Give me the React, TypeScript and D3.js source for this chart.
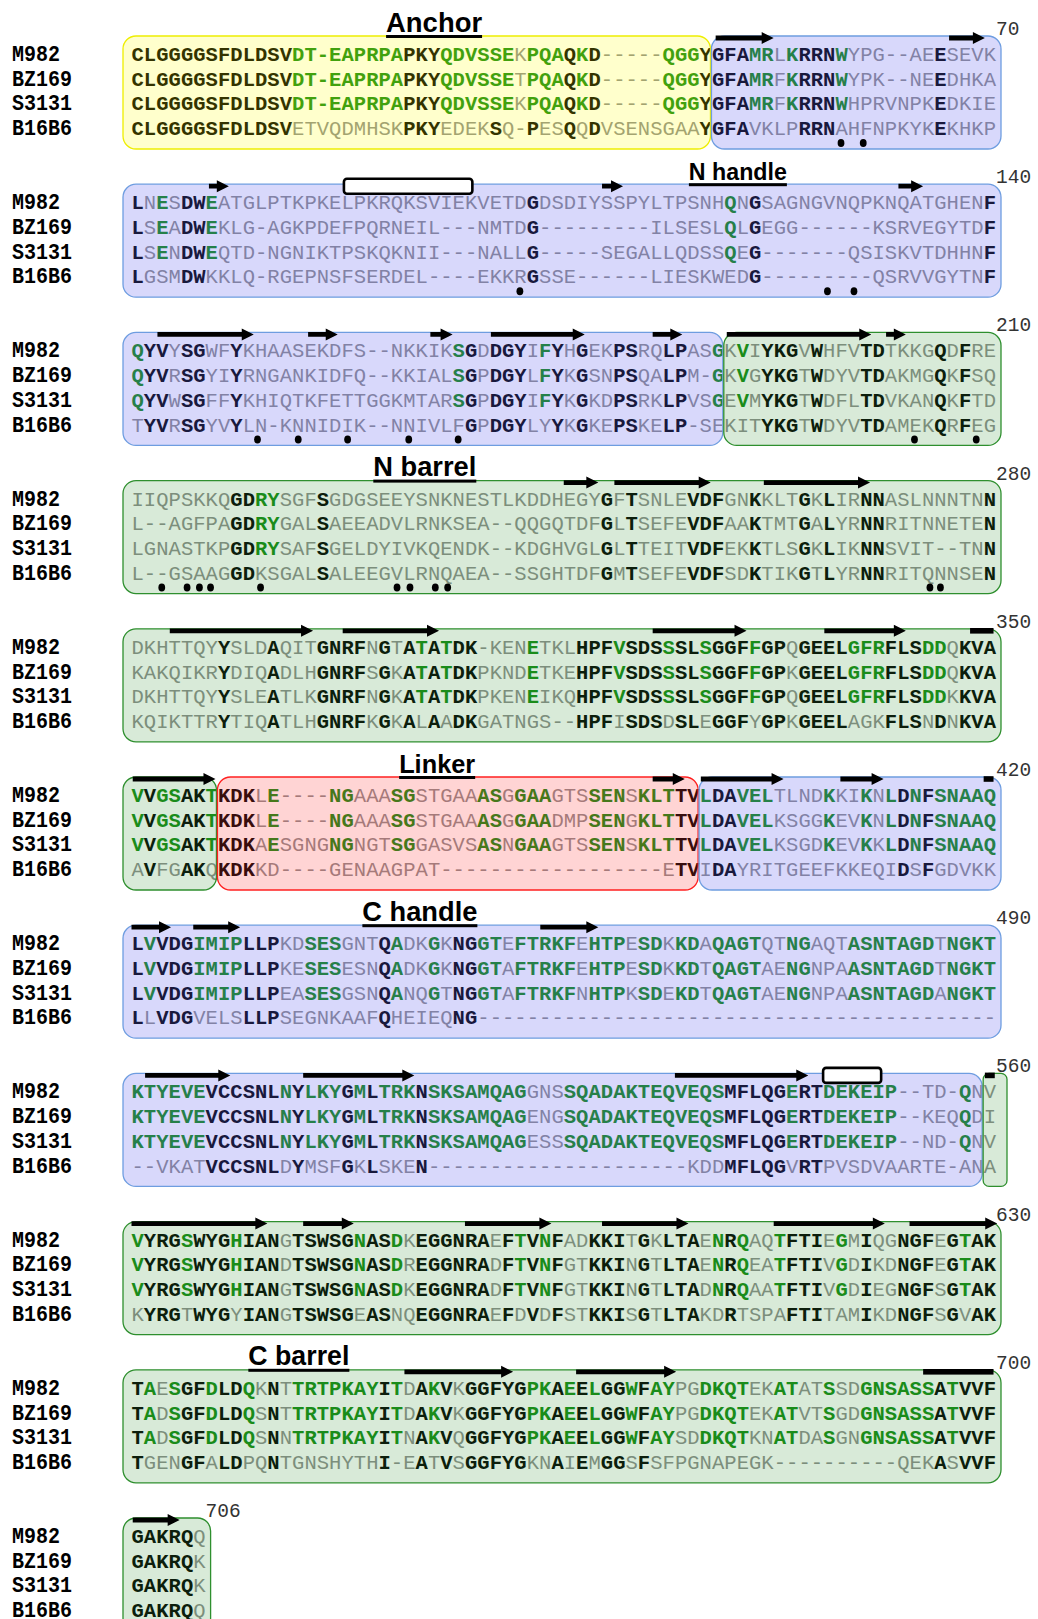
import React from "react";
import * as d3 from "d3";

// ---------------- DATA ----------------
const names = ["M982", "BZ169", "S3131", "B16B6"];

const M982 = [
  "CLGGGGSFDLDSVDT-EAPRPAPKYQDVSSEKPQAQKD-----QGGYGFAMRLKRRNWYPG--AEESEVK",
  "LNESDWEATGLPTKPKELPKRQKSVIEKVETDGDSDIYSSPYLTPSNHQNGSAGNGVNQPKNQATGHENF",
  "QYVYSGWFYKHAASEKDFS--NKKIKSGDDGYIFYHGEKPSRQLPASGKVIYKGVWHFVTDTKKGQDFRE",
  "IIQPSKKQGDRYSGFSGDGSEEYSNKNESTLKDDHEGYGFTSNLEVDFGNKKLTGKLIRNNASLNNNTNN",
  "DKHTTQYYSLDAQITGNRFNGTATATDK-KENETKLHPFVSDSSSLSGGFFGPQGEELGFRFLSDDQKVA",
  "VVGSAKTKDKLE----NGAAASGSTGAAASGGAAGTSSENSKLTTVLDAVELTLNDKKIKNLDNFSNAAQ",
  "LVVDGIMIPLLPKDSESGNTQADKGKNGGTEFTRKFEHTPESDKKDAQAGTQTNGAQTASNTAGDTNGKT",
  "KTYEVEVCCSNLNYLKYGMLTRKNSKSAMQAGGNSSQADAKTEQVEQSMFLQGERTDEKEIP--TD-QNV",
  "VYRGSWYGHIANGTSWSGNASDKEGGNRAEFTVNFADKKITGKLTAENRQAQTFTIEGMIQGNGFEGTAK",
  "TAESGFDLDQKNTTRTPKAYITDAKVKGGFYGPKAEELGGWFAYPGDKQTEKATATSSDGNSASSATVVF",
  "GAKRQQ",
];
const BZ169 = [
  "CLGGGGSFDLDSVDT-EAPRPAPKYQDVSSETPQAQKD-----QGGYGFAMRFKRRNWYPK--NEEDHKA",
  "LSEADWEKLG-AGKPDEFPQRNEIL---NMTDG---------ILSESLQLGEGG------KSRVEGYTDF",
  "QYVRSGYIYRNGANKIDFQ--KKIALSGPDGYLFYKGSNPSQALPM-GKVGYKGTWDYVTDAKMGQKFSQ",
  "L--AGFPAGDRYGALSAEEADVLRNKSEA--QQGQTDFGLTSEFEVDFAAKTMTGALYRNNRITNNETEN",
  "KAKQIKRYDIQADLHGNRFSGKATATDKPKNDETKEHPFVSDSSSLSGGFFGPKGEELGFRFLSDDQKVA",
  "VVGSAKTKDKLE----NGAAASGSTGAAASGGAADMPSENGKLTTVLDAVELKSGGKEVKNLDNFSNAAQ",
  "LVVDGIMIPLLPKESESESNQADKGKNGGTAFTRKFEHTPESDKKDTQAGTAENGNPAASNTAGDTNGKT",
  "KTYEVEVCCSNLNYLKYGMLTRKNSKSAMQAGENGSQADAKTEQVEQSMFLQGERTDEKEIP--KEQQDI",
  "VYRGSWYGHIANDTSWSGNASDREGGNRADFTVNFGTKKINGTLTAENRQEATFTIVGDIKDNGFEGTAK",
  "TADSGFDLDQSNTTRTPKAYITDAKVKGGFYGPKAEELGGWFAYPGDKQTEKATVTSGDGNSASSATVVF",
  "GAKRQK",
];
const S3131 = [
  "CLGGGGSFDLDSVDT-EAPRPAPKYQDVSSEKPQAQKD-----QGGYGFAMRFKRRNWHPRVNPKEDKIE",
  "LSENDWEQTD-NGNIKTPSKQKNII---NALLG-----SEGALLQDSSQEG-------QSISKVTDHHNF",
  "QYVWSGFFYKHIQTKFETTGGKMTARSGPDGYIFYKGKDPSRKLPVSGEVMYKGTWDFLTDVKANQKFTD",
  "LGNASTKPGDRYSAFSGELDYIVKQENDK--KDGHVGLGLTTEITVDFEKKTLSGKLIKNNSVIT--TNN",
  "DKHTTQYYSLEATLKGNRFNGKATATDKPKENEIKQHPFVSDSSSLSGGFFGPQGEELGFRFLSDDKKVA",
  "VVGSAKTKDKAESGNGNGNGTSGGASVSASNGAAGTSSENSKLTTVLDAVELKSGDKEVKKLDNFSNAAQ",
  "LVVDGIMIPLLPEASESGSNQANQGTNGGTAFTRKFNHTPKSDEKDTQAGTAENGNPAASNTAGDANGKT",
  "KTYEVEVCCSNLNYLKYGMLTRKNSKSAMQAGESSSQADAKTEQVEQSMFLQGERTDEKEIP--ND-QNV",
  "VYRGSWYGHIANGTSWSGNASDKEGGNRADFTVNFGTKKINGTLTADNRQAATFTIVGDIEGNGFSGTAK",
  "TADSGFDLDQSNNTRTPKAYITNAKVQGGFYGPKAEELGGWFAYSDDKQTKNATDASGNGNSASSATVVF",
  "GAKRQK",
];
const B16B6 = [
  "CLGGGGSFDLDSVETVQDMHSKPKYEDEKSQ-PESQQDVSENSGAAYGFAVKLPRRNAHFNPKYKEKHKP",
  "LGSMDWKKLQ-RGEPNSFSERDEL----EKKRGSSE------LIESKWEDG---------QSRVVGYTNF",
  "TYVRSGYVYLN-KNNIDIK--NNIVLFGPDGYLYYKGKEPSKELP-SEKITYKGTWDYVTDAMEKQRFEG",
  "L--GSAAGGDKSGALSALEEGVLRNQAEA--SSGHTDFGMTSEFEVDFSDKTIKGTLYRNNRITQNNSEN",
  "KQIKTTRYTIQATLHGNRFKGKALAADKGATNGS--HPFISDSDSLEGGFYGPKGEELAGKFLSNDNKVA",
  "AVFGAKQKDKKD----GENAAGPAT" + "-".repeat(18) + "ETVIDAYRITGEEFKKEQIDSFGDVKK",
  "LLVDGVELSLLPSEGNKAAFQHEIEQNG" + "-".repeat(42),
  "--VKATVCCSNLDYMSFGKLSKEN" + "-".repeat(21) + "KDDMFLQGVRTPVSDVAARTE-ANA",
  "KYRGTWYGYIANGTSWSGEASNQEGGNRAEFDVDFSTKKISGTLTAKDRTSPAFTITAMIKDNGFSGVAK",
  "TGENGFALDPQNTGNSHYTHI-EATVSGGFYGKNAIEMGGSFSFPGNAPEGK" + "-".repeat(10) + "QEKASVVF",
  "GAKRQQ",
];

// residue classes: k = identical (bold black), g = conserved (bold green), . = other (grey)
const styleTop = [
  "k13 g9 k3 g6 .1 g3 k1 g1 k1 .5 g3 k4 g2 .1 g1 k3 g1 .7 k1 .4",
  "k1 .1 g1 .1 k2 g1 .25 k1 .15 g1 .1 k1 .18 k1",
  "g1 k2 .1 k2 .2 k1 .17 g1 k1 .1 k3 .1 g1 k1 .1 k1 .2 k2 .2 k2 .2 g1 .1 g1 .1 k3 .1 k1 .3 k2 .4 k1 .1 k1 .2",
  ".8 k2 g2 .3 k1 .22 k1 .1 k1 .4 k3 .2 k1 .3 k1 .1 k1 .2 k2 .8 k1",
  ".7 k1 .3 k1 .3 k4 .1 k1 .1 k1 g1 k1 g1 k2 .4 g1 .3 k3 g1 k3 g1 k2 g1 k3 g1 k2 .1 k4 g3 k3 g2 .1 k3",
  "g1 k1 g2 k2 g1 k3 .1 g1 .4 g2 .3 g2 .5 g2 .1 g3 .3 g3 .1 g3 k2 g1 k2 g3 .4 g1 .2 g1 .1 g1 k1 g1 k1 g5",
  "k1 g1 k3 g4 k3 .2 g3 .3 k1 g1 .2 g1 .1 k2 g2 .1 g5 .1 g3 .1 g2 .1 g2 .1 g4 .2 g2 .3 g7 .1 g4",
  "g6 k6 g1 k1 g3 k1 g1 k1 g3 k1 g8 .3 g13 k5 g1 k2 g6 .5 g1 .2",
  "g1 k3 g1 k3 g1 k3 .1 k5 g1 k2 g1 .1 k6 .1 k1 g1 k1 g1 k1 .2 k3 .1 k1 .1 k3 .1 g1 k1 g1 .2 g1 k3 .1 g1 .1 k1 .2 k3 .1 k1 g1 k2",
  "k1 g1 .1 g1 k2 g1 k2 g1 .1 k1 .1 g7 k1 g1 .1 k1 g1 k1 .1 k5 g2 k1 g1 k1 g1 k2 g1 k1 g2 .2 g4 .2 g2 .2 g1 .2 g6 k1 g1 k3",
  "k5 .1",
];
const styleB16B6 = [
  "k13 .9 k3 .4 k1 .2 k1 .2 k1 .1 k1 .8 k4 .4 k3 .8 k1 .4",
  "k1 .3 k2 .26 k1 .17 k1 .18 k1",
  ".1 k2 .1 k2 .2 k1 .18 k1 .1 k3 .2 k1 .1 k1 .2 k2 .2 k2 .6 k3 .1 k1 .3 k2 .4 k1 .1 k1 .2",
  ".8 k2 .5 k1 .22 k1 .1 k1 .4 k3 .2 k1 .3 k1 .1 k1 .2 k2 .8 k1",
  ".7 k1 .3 k1 .3 k4 .1 k1 .1 k1 .1 k1 .1 k2 .8 k3 .1 k3 .1 k2 .1 k3 .1 k2 .1 k4 .3 k3 .1 k1 .1 k3",
  ".1 k1 .2 k2 .1 k3 .34 k2 .1 k2 .13 k1 .1 k1 .5",
  "k1 .1 k3 .4 k3 .8 k1 .5 k2 .42",
  ".6 k6 .1 k1 .3 k1 .1 k1 .3 k1 .24 k5 .1 k2 .14",
  ".1 k3 .1 k3 .1 k3 .1 k5 .1 k2 .2 k6 .1 k1 .1 k1 .1 k1 .2 k3 .1 k1 .1 k3 .2 k1 .4 k3 .3 k1 .2 k3 .1 k1 .1 k2",
  "k1 .3 k2 .1 k2 .2 k1 .8 k1 .2 k1 .1 k1 .1 k5 .2 k1 .1 k1 .1 k2 .1 k1 .23 k1 .1 k3",
  "k5 .1",
];

const blockEnds = ["70", "140", "210", "280", "350", "420", "490", "560", "630", "700", "706"];

// domain boxes per block: [domain, firstCol, lastCol]
const domainBoxes: [string, number, number][][] = [
  [["anchor", 1, 47], ["handle", 48, 70]],
  [["handle", 1, 70]],
  [["handle", 1, 48], ["barrel", 49, 70]],
  [["barrel", 1, 70]],
  [["barrel", 1, 70]],
  [["barrel", 1, 7], ["linker", 8, 46], ["handle", 47, 70]],
  [["handle", 1, 70]],
  [["handle", 1, 69], ["barrel", 70, 70]],
  [["barrel", 1, 70]],
  [["barrel", 1, 70]],
  [["barrel", 1, 6]],
];

// secondary structure per block: [start, end, type] in column units (a = strand, b = strand continues, h = helix)
const secondary: [number, number, string][][] = [
  [[47.3, 52.0, "a"], [66.2, 69.1, "a"]],
  [[6.27, 7.88, "a"], [17.2, 27.6, "h"], [38.1, 39.8, "a"], [62.1, 64.1, "a"]],
  [[2.1, 9.9, "a"], [14.3, 16.7, "a"], [24.2, 26.0, "a"], [29.1, 36.7, "a"], [42.2, 44.6, "a"], [48.2, 59.9, "a"], [61.1, 62.7, "a"]],
  [[35.0, 37.8, "a"], [39.1, 46.9, "a"], [51.2, 59.8, "a"]],
  [[3.1, 14.7, "a"], [17.1, 24.9, "a"], [42.2, 49.8, "a"], [56.1, 62.7, "a"], [67.9, 69.8, "b"]],
  [[0.1, 6.8, "a"], [42.2, 44.8, "a"], [46.1, 52.8, "a"], [57.4, 60.9, "a"], [69.0, 69.8, "b"]],
  [[0.0, 3.2, "a"], [5.0, 8.8, "a"], [33.1, 37.8, "a"]],
  [[1.1, 8.0, "a"], [13.9, 22.9, "a"], [44.0, 54.8, "a"], [56.0, 60.7, "h"], [69.1, 69.9, "b"]],
  [[0.0, 11.0, "a"], [13.9, 18.0, "a"], [27.0, 34.0, "a"], [38.1, 45.1, "a"], [52.0, 61.0, "a"], [63.0, 70.1, "a"]],
  [[22.1, 30.9, "a"], [36.0, 44.1, "a"], [64.1, 69.8, "b"]],
  [[0.1, 3.9, "a"]],
];

// marked residues (dots) per block, column centres
const marks: number[][] = [
  [57.45, 59.25],
  [31.45, 56.35, 58.5],
  [10.2, 13.5, 17.5, 22.45, 26.45, 63.4, 68.4],
  [2.45, 4.5, 5.5, 6.4, 10.45, 21.5, 22.55, 24.6, 25.6, 64.65, 65.5],
];

const domainLabels = [
  { text: "Anchor", block: 0, col: 24.5, w: 96, fs: 27 },
  { text: "N handle", block: 1, col: 49.1, w: 98, fs: 23 },
  { text: "N barrel", block: 3, col: 23.75, w: 103, fs: 27 },
  { text: "Linker", block: 5, col: 24.75, w: 76, fs: 26 },
  { text: "C handle", block: 6, col: 23.35, w: 115, fs: 27 },
  { text: "C barrel", block: 9, col: 13.55, w: 101, fs: 27 },
];

// ---------------- LAYOUT ----------------
const W = 1038;
const H = 1619;
const X0 = 131.5;
const PITCH = 12.35;
const BASE0 = 61;
const BLOCK_PITCH = 148.2;
const ROW_PITCH = 24.7;

const classColor: Record<string, string> = { k: "#000000", g: "#128a12", ".": "#8c8c8c" };
const boxStyle: Record<string, { fill: string; stroke: string }> = {
  anchor: { fill: "rgba(255,255,0,0.2)", stroke: "#eeee00" },
  handle: { fill: "rgba(100,100,240,0.25)", stroke: "#6e9de0" },
  barrel: { fill: "rgba(60,150,60,0.2)", stroke: "#2e8f2e" },
  linker: { fill: "rgba(255,60,60,0.22)", stroke: "#ff2020" },
};

function expand(spec: string, len: number): string {
  const s = spec
    .split(" ")
    .filter(Boolean)
    .map((t) => t[0].repeat(+t.slice(1)))
    .join("");
  return s.padEnd(len, ".").slice(0, len);
}

const MONO = "'Liberation Mono', 'Courier New', monospace";
const SANS = "'Liberation Sans', Arial, Helvetica, sans-serif";

export default function App() {
  const x = d3.scaleLinear().domain([0, 70]).range([X0, X0 + 70 * PITCH]);
  const yBlock = d3.scaleLinear().domain([0, 10]).range([BASE0, BASE0 + 10 * BLOCK_PITCH]);
  const seqs = [M982, BZ169, S3131, B16B6];
  const styles = [styleTop, styleTop, styleTop, styleB16B6];

  const blocks = M982.map((_, b) => {
    const base = yBlock(b);
    const n = M982[b].length;

    const residues: React.ReactNode[] = [];
    seqs.forEach((seq, r) => {
      const s = seq[b];
      const st = expand(styles[r][b], s.length);
      for (let i = 0; i < s.length; i++) {
        const cls = st[i];
        residues.push(
          <text
            key={`r${r}-${i}`}
            x={x(i + 0.5)}
            y={base + r * ROW_PITCH}
            textAnchor="middle"
            fill={classColor[cls]}
            fontWeight={cls === "." ? "normal" : "bold"}
          >
            {s[i]}
          </text>
        );
      }
    });

    const boxes = domainBoxes[b].map(([dom, c0, c1], i) => {
      const left = c0 === 1 ? x(0) - 8.5 : x(c0 - 1) - 0.5;
      const right = c1 === n ? x(c1) + (c1 - c0 < 2 ? 11 : 5) : x(c1) - 1.5;
      const top = base - 25;
      const bottom = base + 88;
      const w = right - left;
      return (
        <rect
          key={`box${i}`}
          x={left}
          y={top}
          width={w}
          height={bottom - top}
          rx={Math.min(13, w / 4)}
          ry={Math.min(13, w / 4)}
          fill={boxStyle[dom].fill}
          stroke={boxStyle[dom].stroke}
          strokeWidth={1.3}
        />
      );
    });

    const ay = base - 23;
    const ss = secondary[b].map(([s, e, t], i) => {
      const xs = x(s);
      const xe = x(e);
      if (t === "h") {
        return (
          <rect key={`ss${i}`} x={xs} y={ay - 7.5} width={xe - xs} height={15} rx={3}
            fill="#ffffff" stroke="#000000" strokeWidth={2.6} />
        );
      }
      if (t === "b") {
        return <rect key={`ss${i}`} x={xs} y={ay - 2.8} width={xe - xs} height={5.6} fill="#000000" />;
      }
      const hl = Math.min(12, (xe - xs) * 0.85);
      const d = `M${xs},${ay - 2.4}L${xe - hl},${ay - 2.4}L${xe - hl},${ay - 6}L${xe},${ay}L${xe - hl},${ay + 6}L${xe - hl},${ay + 2.4}L${xs},${ay + 2.4}Z`;
      return <path key={`ss${i}`} d={d} fill="#000000" />;
    });

    const dots = (marks[b] || []).map((c, i) => (
      <ellipse key={`dot${i}`} cx={x(c)} cy={base + 82} rx={3.4} ry={4} fill="#000000" />
    ));

    return (
      <g key={`block${b}`}>
        {names.map((nm, r) => (
          <text
            key={`nm${r}`}
            transform={`translate(12,${base + r * ROW_PITCH}) scale(1,1.12)`}
            fontFamily={MONO}
            fontWeight="bold"
            fontSize={20}
            fill="#000"
          >
            {nm}
          </text>
        ))}
        <g fontFamily={MONO} fontSize={20.5}>{residues}</g>
        {boxes}
        {ss}
        {dots}
        <text x={x(n)} y={base - 26} fontFamily={MONO} fontSize={19.5} fill="#333">
          {blockEnds[b]}
        </text>
      </g>
    );
  });

  const labels = domainLabels.map((d, i) => {
    const base = yBlock(d.block);
    const cx = x(d.col);
    return (
      <g key={`lab${i}`}>
        <text
          x={cx}
          y={base - 29.5}
          textAnchor="middle"
          fontFamily={SANS}
          fontWeight="bold"
          fontSize={d.fs}
          textLength={d.w}
          lengthAdjust="spacingAndGlyphs"
          fill="#000"
        >
          {d.text}
        </text>
        <rect x={cx - d.w / 2} y={base - 26} width={d.w} height={3} fill="#000" />
      </g>
    );
  });

  return (
    <div style={{ position: "absolute", left: 0, top: 0, background: "#fff" }}>
      <svg width={W} height={H} viewBox={`0 0 ${W} ${H}`} style={{ display: "block", background: "#fff" }}>
        <rect x={0} y={0} width={W} height={H} fill="#ffffff" />
        {blocks}
        {labels}
      </svg>
    </div>
  );
}
